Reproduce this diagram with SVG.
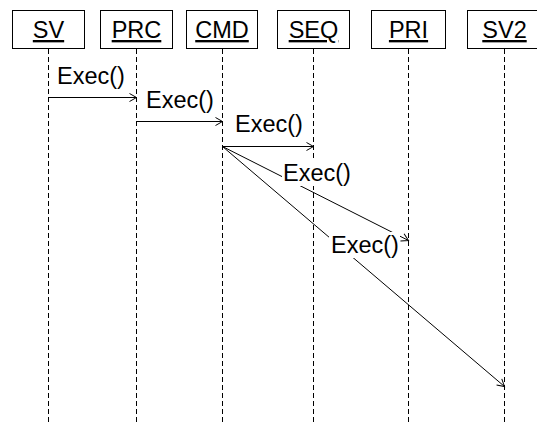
<svg xmlns="http://www.w3.org/2000/svg" width="537" height="423" viewBox="0 0 537 423">
<style>
.box{fill:#fff;stroke:#000;stroke-width:1}
.life{stroke:#000;stroke-width:1;stroke-dasharray:5,3;fill:none}
.name{font-family:"Liberation Sans",Arial,sans-serif;font-size:23.5px;text-anchor:middle;fill:#000;text-decoration:underline}
.msg{stroke:#000;stroke-width:1;fill:none;marker-end:url(#arr)}
.lbl{font-family:"Liberation Sans",Arial,sans-serif;font-size:23.5px;fill:#000}
.bg{fill:#fff}
</style>
<defs>
<marker id="arr" markerUnits="userSpaceOnUse" markerWidth="10" markerHeight="10" refX="8" refY="4.5" orient="auto" overflow="visible">
<path d="M1,0.5 L8,4.5 L1,8.5" fill="none" stroke="#000" stroke-width="1"/>
</marker>
</defs>
<rect width="537" height="423" fill="#fff"/>
<g id="SV"><rect class="box" x="12.5" y="10.5" width="72" height="38"/><line class="life" x1="48.5" y1="49" x2="48.5" y2="423"/><text class="name" x="48.5" y="38">SV</text></g>
<g id="PRC"><rect class="box" x="100.5" y="10.5" width="72" height="38"/><line class="life" x1="136.5" y1="49" x2="136.5" y2="423"/><text class="name" x="136.5" y="38">PRC</text></g>
<g id="CMD"><rect class="box" x="186.5" y="10.5" width="71" height="38"/><line class="life" x1="222.5" y1="49" x2="222.5" y2="423"/><text class="name" x="222" y="38">CMD</text></g>
<g id="SEQ"><rect class="box" x="277.5" y="10.5" width="72" height="38"/><line class="life" x1="313.5" y1="49" x2="313.5" y2="423"/><text class="name" x="313.5" y="38">SEQ</text></g>
<g id="PRI"><rect class="box" x="371.5" y="10.5" width="74" height="38"/><line class="life" x1="408.5" y1="49" x2="408.5" y2="423"/><text class="name" x="408.5" y="38">PRI</text></g>
<g id="SV2"><rect class="box" x="467.5" y="10.5" width="75" height="38"/><line class="life" x1="504.5" y1="49" x2="504.5" y2="423"/><text class="name" x="504.5" y="38">SV2</text></g>
<g id="connectors">
<line class="msg" x1="48.5" y1="97.5" x2="136.5" y2="97.5"/>
<line class="msg" x1="136.5" y1="121.5" x2="222.5" y2="121.5"/>
<line class="msg" x1="222.5" y1="146.5" x2="313.5" y2="146.5"/>
<line class="msg" x1="222.5" y1="146.5" x2="408.5" y2="240.5"/>
<line class="msg" x1="222.5" y1="146.5" x2="504.5" y2="386.5"/>
</g>
<g id="labels">
<text class="lbl" x="57" y="84">Exec()</text>
<text class="lbl" x="146" y="108">Exec()</text>
<text class="lbl" x="235" y="132">Exec()</text>
<rect class="bg" x="282" y="160" width="70" height="26"/>
<text class="lbl" x="283" y="181">Exec()</text>
<rect class="bg" x="329" y="232" width="71" height="26"/>
<text class="lbl" x="331" y="253">Exec()</text>
</g>
</svg>
